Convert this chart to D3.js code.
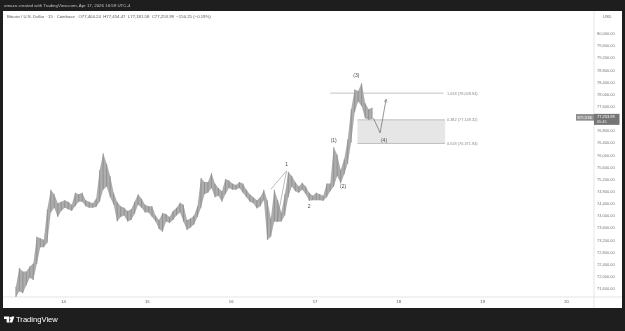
<!DOCTYPE html>
<html>
<head>
<meta charset="utf-8">
<script src="https://cdn.jsdelivr.net/npm/d3@7"></script>
<style>
  html, body { margin: 0; padding: 0; background: #1e1e1e; }
  svg { display: block; filter: grayscale(100%); }
  text { font-family: "Liberation Sans", Arial, sans-serif; }
</style>
</head>
<body>
<svg id="chart" width="625" height="331"></svg>
<script>
// BTCUSD 15m, drawn as hourly high/low ranges (Apr 13 10:00 -> Apr 17 16:00)
const firstBar = new Date(2026, 3, 13, 10);
const barHigh = [
    71650, 72270, 72150, 72150, 72320, 72420, 73300, 73250, 73200, 74200,
    74850, 74700, 74400, 74450, 74500, 74450, 74350, 74750, 74700, 74750,
    74500, 74450, 74400, 74550, 75500, 76050, 75700, 75300, 74750, 74450,
    74300, 74250, 74150, 74200, 74450, 74700, 74550, 74350, 74300, 74300,
    74000, 73850, 74080, 74050, 73950, 74150, 74250, 74420, 74350, 73850,
    73900, 74000, 74300, 75230, 75100, 75100, 75400, 75050, 74900, 74800,
    75200, 75150, 75050, 75000, 75100, 75050, 74850, 74700, 74600, 74500,
    74600, 74850, 74500, 73900, 74850, 74500, 74100, 74700, 75440, 75300,
    75100, 74950, 75080, 74950, 74750, 74650, 74750, 74700, 74650, 75050,
    75050, 76250, 76000, 75500, 75850, 76500, 77500, 78150, 78100, 78360,
    77700, 77500, 77550
];
const barLow = [
    71300, 71500, 71440, 71700, 71950, 71870, 72400, 72950, 72950, 73100,
    74100, 74250, 73950, 74150, 74250, 74200, 74150, 74300, 74450, 74450,
    74300, 74250, 74250, 74280, 74450, 74850, 74950, 74600, 74350, 73800,
    73950, 74000, 73800, 73850, 74050, 74350, 74250, 74100, 74100, 73950,
    73800, 73550, 73460, 73800, 73750, 73850, 74000, 74100, 73790, 73520,
    73600, 73700, 73950, 74250, 74700, 74750, 74900, 74600, 74650, 74450,
    74700, 74900, 74850, 74850, 74900, 74750, 74600, 74450, 74400, 74230,
    74300, 74500, 73190, 73300, 73800, 73790, 73800, 74000, 74600, 74950,
    74800, 74750, 74850, 74700, 74480, 74500, 74500, 74500, 74480, 74600,
    74800, 74950, 75300, 75050, 75350, 75700, 76400, 77400, 77750, 77600,
    77200, 77150, 77180
];
const lastClose = 77253.99;

const dayTicks = [14, 15, 16, 17, 18, 19, 20];
const priceTicks = [80000, 79600, 79200, 78800, 78400, 78000, 77600, 77200, 76800, 76400,
    76000, 75600, 75200, 74800, 74400, 74000, 73600, 73200, 72800, 72400, 72000, 71600];

// fib levels
const fibLevels = ['1.618', '0.382', '0.618'];
const fibPrices = [78028.94, 77149.32, 76371.94];

// elliott wave labels [text, day, hour, price]
const waveLabels = [
    ['1', 16, 16.0, 75690],
    ['2', 16, 22.5, 74320],
    ['(1)', 17, 5.5, 76480],
    ['(2)', 17, 8.2, 74960],
    ['(3)', 17, 12.0, 78630],
    ['(4)', 17, 19.9, 76480]
];
// drawn wave lines near "1": [day, hour, price]
const waveSegA = [[16, 11.5, 74860], [16, 16.0, 75470]];
const waveSegB = [[16, 13.2, 73790], [16, 16.0, 75470]];
// projected move after the last bar
const projection = [[17, 16.9, 77200], [17, 18.8, 76720], [17, 20.5, 77830]];

const headerText = 'omaza created with TradingView.com, Apr 17, 2026 16:59 UTC-4';
const titleText = 'Bitcoin / U.S. Dollar \u00b7 15 \u00b7 Coinbase   O77,404.24  H77,454.47  L77,181.58  C77,253.99  \u2212150.25 (\u22120.19%)';

let svg = d3.select('#chart');
let panel = { left: 3, right: 622, top: 11, bottom: 308, axisX: 594, axisY: 297 };

let x = d3.scaleTime()
    .domain([new Date(2026, 3, 14), new Date(2026, 3, 20)])
    .range([63, 566]);
let y = d3.scaleLinear()
    .domain([71600, 80000])
    .range([288.3, 33.3]);

function at(day, hour) { return new Date(2026, 3, day, 0, hour * 60); }

svg.append('rect').attr('width', 625).attr('height', 331).attr('fill', '#1e1e1e');
svg.append('rect')
    .attr('x', panel.left).attr('y', panel.top)
    .attr('width', panel.right - panel.left).attr('height', panel.bottom - panel.top)
    .attr('fill', '#ffffff');

svg.append('text').attr('x', 4).attr('y', 7.3)
    .attr('font-size', 4.4).attr('fill', '#c4c4c4').text(headerText);
svg.append('text').attr('x', 7).attr('y', 17.6)
    .attr('font-size', 4.3).attr('fill', '#555').attr('xml:space', 'preserve').text(titleText);

// separators
svg.append('line').attr('x1', panel.axisX).attr('x2', panel.axisX)
    .attr('y1', panel.top).attr('y2', panel.bottom).attr('stroke', '#dedede').attr('stroke-width', 0.8);
svg.append('line').attr('x1', panel.left).attr('x2', panel.right)
    .attr('y1', panel.axisY).attr('y2', panel.axisY).attr('stroke', '#dedede').attr('stroke-width', 0.8);

svg.append('clipPath').attr('id', 'plotClip')
    .append('rect').attr('x', panel.left).attr('y', panel.top)
    .attr('width', panel.axisX - panel.left).attr('height', panel.axisY - panel.top);

let plot = svg.append('g').attr('clip-path', 'url(#plotClip)');

let bars = barHigh.map(function(h, i) {
    return { t: d3.timeMinute.offset(d3.timeHour.offset(firstBar, i), 30), hi: h, lo: barLow[i] };
});

// fib box and lines
let fibBoxLeft = x(at(17, 12.3));
let fibRight = x(at(18, 13.4));
plot.append('rect')
    .attr('x', fibBoxLeft).attr('y', y(fibPrices[1]))
    .attr('width', fibRight - fibBoxLeft).attr('height', y(fibPrices[2]) - y(fibPrices[1]))
    .attr('fill', '#e6e6e6');
plot.append('line')
    .attr('x1', x(at(17, 4.5))).attr('x2', fibRight - 1.5)
    .attr('y1', y(fibPrices[0])).attr('y2', y(fibPrices[0]))
    .attr('stroke', '#c2c2c2').attr('stroke-width', 1);
[1, 2].forEach(function(i) {
    plot.append('line')
        .attr('x1', fibBoxLeft).attr('x2', fibRight)
        .attr('y1', y(fibPrices[i])).attr('y2', y(fibPrices[i]))
        .attr('stroke', '#b4b4b4').attr('stroke-width', 0.8);
});
fibLevels.forEach(function(lvl, i) {
    plot.append('text')
        .attr('x', fibRight + 1.8).attr('y', y(fibPrices[i]) + 1.4)
        .attr('font-size', 3.9).attr('fill', '#8a8a8a')
        .text(lvl + ' (' + d3.format(',.2f')(fibPrices[i]) + ')');
});

// price ranges
let band = d3.area()
    .x(function(d) { return x(d.t); })
    .y0(function(d) { return y(d.lo); })
    .y1(function(d) { return y(d.hi); });
plot.append('path').datum(bars)
    .attr('d', band).attr('fill', '#adadad');
plot.selectAll('line.bar').data(bars).enter().append('line')
    .attr('class', 'bar')
    .attr('x1', function(d) { return x(d.t); })
    .attr('x2', function(d) { return x(d.t); })
    .attr('y1', function(d) { return y(d.hi); })
    .attr('y2', function(d) { return y(d.lo); })
    .attr('stroke', '#858585').attr('stroke-width', 0.7);

// wave drawings
let waveLine = d3.line()
    .x(function(d) { return x(at(d[0], d[1])); })
    .y(function(d) { return y(d[2]); });
[waveSegA, waveSegB].forEach(function(seg) {
    plot.append('path').attr('d', waveLine(seg))
        .attr('fill', 'none').attr('stroke', '#8f8f8f').attr('stroke-width', 0.6);
});

svg.append('defs').append('marker')
    .attr('id', 'arrow').attr('viewBox', '0 0 10 10')
    .attr('refX', 9).attr('refY', 5)
    .attr('markerWidth', 5).attr('markerHeight', 5)
    .attr('orient', 'auto-start-reverse')
    .append('path').attr('d', 'M1,1 L9,5 L1,9').attr('fill', 'none')
    .attr('stroke', '#7a7a7a').attr('stroke-width', 1.4);
plot.append('path').attr('d', waveLine(projection))
    .attr('fill', 'none').attr('stroke', '#7a7a7a').attr('stroke-width', 0.8)
    .attr('marker-end', 'url(#arrow)');

waveLabels.forEach(function(w) {
    plot.append('text')
        .attr('x', x(at(w[1], w[2]))).attr('y', y(w[3]) + 1.8)
        .attr('text-anchor', 'middle')
        .attr('font-size', 5).attr('fill', '#4a4a4a')
        .text(w[0]);
});

// axes
let timeAxis = d3.axisBottom(x)
    .tickValues(dayTicks.map(function(d) { return new Date(2026, 3, d); }))
    .tickFormat(d3.timeFormat('%-d'))
    .tickSize(0).tickPadding(3);
let gx = svg.append('g').attr('transform', 'translate(0,' + panel.axisY + ')').call(timeAxis);
gx.select('.domain').remove();
gx.selectAll('text').attr('font-size', 4.2).attr('fill', '#555');

// labels under the last price tag are hidden, like on the platform
let yc = y(lastClose);
let priceAxis = d3.axisRight(y)
    .tickValues(priceTicks.filter(function(p) { return Math.abs(y(p) - yc) > 8; }))
    .tickFormat(d3.format(',.2f'))
    .tickSize(0).tickPadding(3);
let gy = svg.append('g').attr('transform', 'translate(' + panel.axisX + ',0)').call(priceAxis);
gy.select('.domain').remove();
gy.selectAll('text').attr('font-size', 4).attr('fill', '#777');

svg.append('text').attr('x', 603).attr('y', 17.5)
    .attr('font-size', 4).attr('fill', '#666').text('USD');

// last price tag
svg.append('rect').attr('x', 576).attr('y', yc - 2.6).attr('width', 18).attr('height', 6.6)
    .attr('fill', '#8d8d8d');
svg.append('text').attr('x', 585).attr('y', yc + 2).attr('text-anchor', 'middle')
    .attr('font-size', 3.6).attr('fill', '#fff').text('BTCUSD');
svg.append('rect').attr('x', 594).attr('y', yc - 2.8).attr('width', 25.5).attr('height', 11)
    .attr('fill', '#757575');
svg.append('text').attr('x', 597).attr('y', yc + 1.4)
    .attr('font-size', 4).attr('fill', '#fff').text(d3.format(',.2f')(lastClose));
svg.append('text').attr('x', 597).attr('y', yc + 6.6)
    .attr('font-size', 3.8).attr('fill', '#e8e8e8').text('05:45');

// footer logo
let logo = svg.append('g').attr('fill', '#ffffff');
logo.append('path').attr('d', 'M4,316.6 H9.2 V322.6 H6.6 V319.1 H4 Z');
logo.append('circle').attr('cx', 10.6).attr('cy', 318).attr('r', 1.1);
logo.append('path').attr('d', 'M11.6,316.6 H14.4 L12.2,322.6 H9.4 Z');
svg.append('text').attr('x', 16).attr('y', 322.4)
    .attr('font-family', 'Inter, "Open Sans", sans-serif')
    .attr('font-size', 7.6).attr('font-weight', 500).attr('fill', '#ffffff')
    .text('TradingView');
</script>
</body>
</html>
